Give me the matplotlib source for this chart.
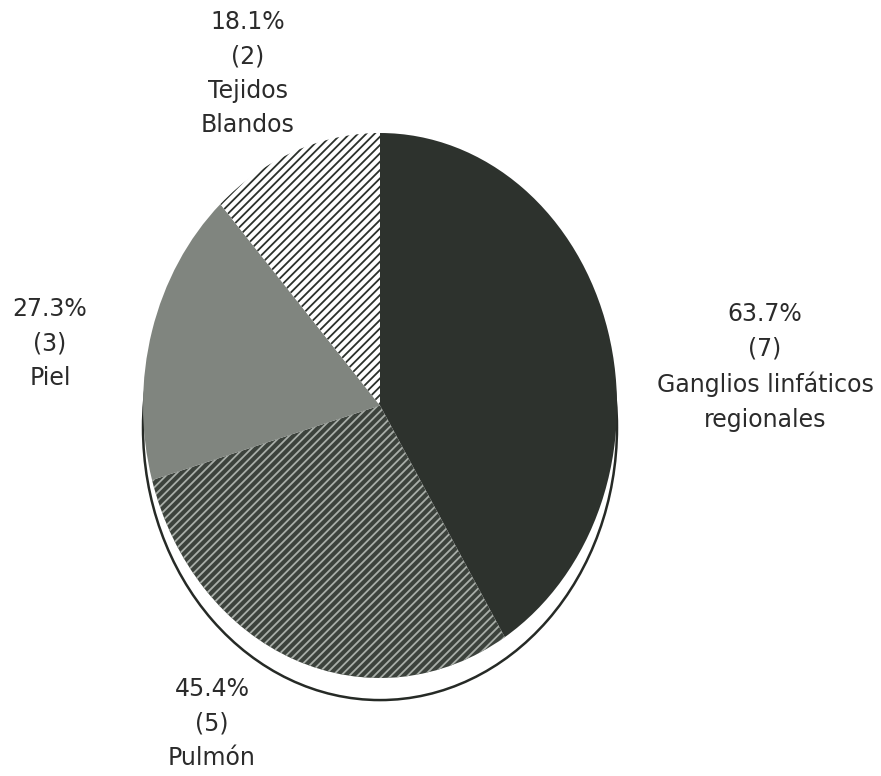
import matplotlib.pyplot as plt
from matplotlib.patches import Ellipse

# Sitios de metástasis: número de casos y porcentaje sobre 11 pacientes
sitios = ['Ganglios linfáticos\nregionales', 'Pulmón', 'Piel', 'Tejidos\nBlandos']
casos = [7, 5, 3, 2]
porcentajes = [63.7, 45.4, 27.3, 18.1]

# Relleno de cada sector (cara, trama, color de trama)
caras = ['#2d322d', '#3c423c', '#80857f', '#ffffff']
tramas = [None, '////', None, '////']
color_trama = ['#2d322d', '#a9aea9', '#80857f', '#2b302b']

plt.rcParams['font.family'] = ['DejaVu Sans']
plt.rcParams['hatch.linewidth'] = 1.3

fig = plt.figure(figsize=(8.81, 7.76), dpi=100)
ax = fig.add_axes([143 / 881, 1 - 678 / 776, 474 / 881, 545 / 776])

# Sombra bajo la torta
sombra = Ellipse((0, -0.081), 2, 2, facecolor='white', edgecolor='#262a26',
                 linewidth=1.8, zorder=0, clip_on=False)
ax.add_patch(sombra)

wedges, _ = ax.pie(casos, startangle=90, counterclock=False, radius=1,
                   wedgeprops=dict(linewidth=0))
for w, fc, h, hc in zip(wedges, caras, tramas, color_trama):
    w.set_facecolor(fc)
    w.set_edgecolor(hc)
    w.set_zorder(2)
    if h:
        w.set_hatch(h)

ax.set_aspect('auto')
ax.set_xlim(-1, 1)
ax.set_ylim(-1, 1)
ax.axis('off')

# Etiquetas: porcentaje, (casos) y sitio
posiciones = [(765, 302), (212, 677), (50, 297), (248, 10)]
for (x, y), sitio, n, p in zip(posiciones, sitios, casos, porcentajes):
    fig.text(x / 881, 1 - y / 776, f'{p}%\n({n})\n{sitio}',
             ha='center', va='top', multialignment='center',
             fontsize=17, color='#2b2b2b', linespacing=1.55)

fig.savefig('out.png', dpi=100, facecolor='white')
